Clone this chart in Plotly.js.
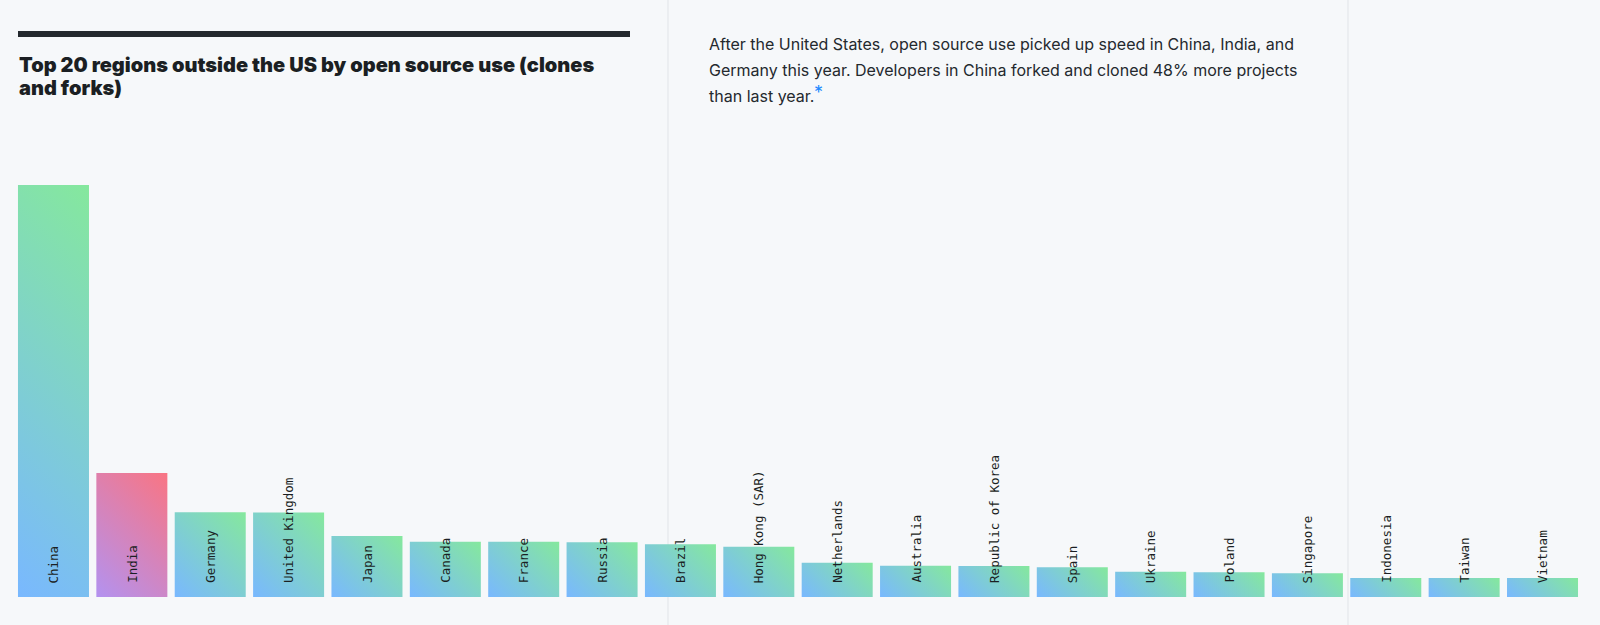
<!DOCTYPE html>
<html>
<head>
<meta charset="utf-8">
<script src="https://cdn.plot.ly/plotly-3.0.1.min.js"></script>
<style>
  html, body { margin: 0; padding: 0; background: #f6f8fa; }
  #chart { width: 1600px; height: 625px; }
</style>
</head>
<body>
<div id="chart"></div>
<script>
// Regions (outside the US), ordered by open source use (clones and forks)
var categories = ["China", "India", "Germany", "United Kingdom", "Japan", "Canada", "France", "Russia",
  "Brazil", "Hong Kong (SAR)", "Netherlands", "Australia", "Republic of Korea", "Spain", "Ukraine",
  "Poland", "Singapore", "Indonesia", "Taiwan", "Vietnam"];
// Relative open source use, index China = 100
var values = [100, 30.1, 20.6, 20.5, 14.8, 13.4, 13.4, 13.3, 12.8, 12.2, 8.3, 7.6, 7.5, 7.2, 6.1, 6.0, 5.75, 4.6, 4.6, 4.6];
// Which gradient each bar uses
var gradientKeys = ["green", "red", "green", "green", "green", "green", "green", "green", "green", "green",
  "green", "green", "green", "green", "green", "green", "green", "green", "green", "green"];

var titleLines = ["Top 20 regions outside the US by open source use (clones", "and forks)"];
var noteLines = [
  "After the United States, open source use picked up speed in China, India, and",
  "Germany this year. Developers in China forked and cloned 48% more projects",
  "than last year."
];
var noteMark = "*";

var W = 1600, H = 625;
var plotLeft = 14.3, plotRight = 14.3 + 1567.4, plotTop = 150, plotBottom = 597;

var trace = {
  type: "bar",
  x: categories,
  y: values,
  marker: { color: "#79b8ff", line: { width: 0 } },
  hoverinfo: "skip"
};

var annotations = [];
categories.forEach(function (c) {
  annotations.push({
    x: c, y: 0, xref: "x", yref: "y",
    text: c, showarrow: false, textangle: -90,
    xanchor: "center", yanchor: "bottom", yshift: 12,
    font: { family: "DejaVu Sans Mono, monospace", size: 12.5, color: "#1b1f23" }
  });
});
var titleCenters = [65, 88];
titleLines.forEach(function (t, i) {
  annotations.push({
    x: 17 / W, y: 1 - titleCenters[i] / H, xref: "paper", yref: "paper",
    text: t, showarrow: false, xanchor: "left", yanchor: "middle",
    font: { family: "Inter, Noto Sans, sans-serif", size: 20, weight: 900, color: "#1b1f23" }
  });
});
var noteCenters = [43.5, 70, 96.5];
noteLines.forEach(function (t, i) {
  annotations.push({
    x: 707 / W, y: 1 - noteCenters[i] / H, xref: "paper", yref: "paper",
    text: t, showarrow: false, xanchor: "left", yanchor: "middle",
    font: { family: "Inter, Noto Sans, sans-serif", size: 16, color: "#24292e" }
  });
});
annotations.push({
  x: 818 / W, y: 1 - 92.5 / H, xref: "paper", yref: "paper",
  text: noteMark, showarrow: false, xanchor: "center", yanchor: "middle",
  font: { family: "Inter, Noto Sans, sans-serif", size: 18, color: "#2188ff" }
});

var layout = {
  width: W, height: H,
  margin: { l: 0, r: 0, t: 0, b: 0, pad: 0 },
  paper_bgcolor: "#f6f8fa",
  plot_bgcolor: "rgba(0,0,0,0)",
  showlegend: false,
  bargap: 0.094,
  hovermode: false,
  xaxis: {
    domain: [plotLeft / W, plotRight / W],
    range: [-0.5, categories.length - 0.5],
    showticklabels: false, showgrid: false, zeroline: false, showline: false, ticks: ""
  },
  yaxis: {
    domain: [1 - plotBottom / H, 1 - plotTop / H],
    range: [0, 100 * (plotBottom - plotTop) / 412],
    showticklabels: false, showgrid: false, zeroline: false, showline: false, ticks: ""
  },
  shapes: [
    { type: "line", xref: "paper", yref: "paper", x0: 668 / W, x1: 668 / W, y0: 0, y1: 1,
      line: { color: "#e1e4e8", width: 1 }, layer: "below" },
    { type: "line", xref: "paper", yref: "paper", x0: 1348 / W, x1: 1348 / W, y0: 0, y1: 1,
      line: { color: "#e1e4e8", width: 1 }, layer: "below" },
    { type: "rect", xref: "paper", yref: "paper", x0: 18 / W, x1: 630 / W, y0: 1 - 37 / H, y1: 1 - 31 / H,
      fillcolor: "#24292e", line: { width: 0 } }
  ],
  annotations: annotations
};

var gd = document.getElementById("chart");
Plotly.newPlot(gd, [trace], layout, { staticPlot: true, displayModeBar: false }).then(function () {
  var svgNS = "http://www.w3.org/2000/svg";
  var svg = gd.querySelector("svg.main-svg");
  var defs = svg.querySelector("defs");
  if (!defs) { defs = document.createElementNS(svgNS, "defs"); svg.insertBefore(defs, svg.firstChild); }
  var grads = { green: ["#79b8ff", "#85e89d"], red: ["#b392f0", "#f97583"] };
  var paths = gd.querySelectorAll(".barlayer .point path");
  paths.forEach(function (p, i) {
    // 45-degree gradient (bottom-left -> top-right), like CSS linear-gradient(45deg, ...)
    var b = p.getBBox();
    var cx = b.x + b.width / 2, cy = b.y + b.height / 2;
    var L = (b.width + b.height) * Math.SQRT1_2;
    var dx = Math.SQRT1_2 * L / 2, dy = -Math.SQRT1_2 * L / 2;
    var key = gradientKeys[i];
    var lg = document.createElementNS(svgNS, "linearGradient");
    lg.setAttribute("id", "bargrad-" + i);
    lg.setAttribute("gradientUnits", "userSpaceOnUse");
    lg.setAttribute("x1", cx - dx); lg.setAttribute("y1", cy - dy);
    lg.setAttribute("x2", cx + dx); lg.setAttribute("y2", cy + dy);
    [[0, grads[key][0]], [1, grads[key][1]]].forEach(function (s) {
      var st = document.createElementNS(svgNS, "stop");
      st.setAttribute("offset", s[0]);
      st.setAttribute("stop-color", s[1]);
      lg.appendChild(st);
    });
    defs.appendChild(lg);
    p.style.fill = "url(#bargrad-" + i + ")";
  });
});
</script>
</body>
</html>
